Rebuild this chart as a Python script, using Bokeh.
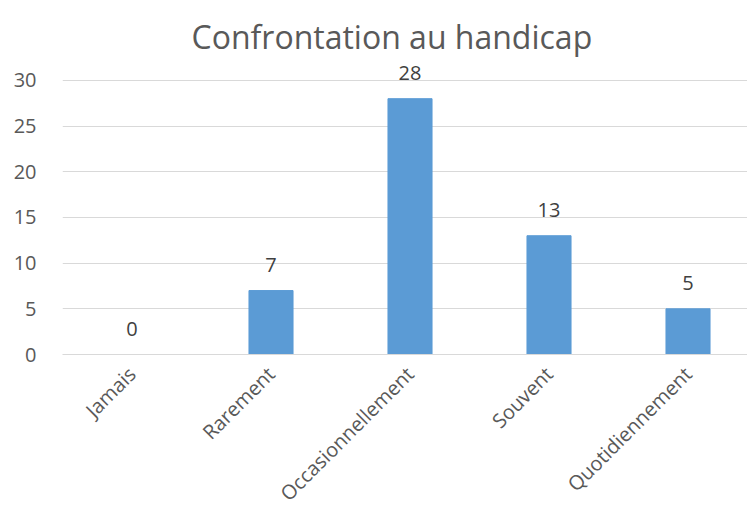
import math
from bokeh.plotting import figure
from bokeh.models import ColumnDataSource, FixedTicker, Range1d, LabelSet
from bokeh.core.properties import value
from bokeh.embed import file_html
from bokeh.resources import INLINE

title_text = "Confrontation au handicap"
categories = ["Jamais", "Rarement", "Occasionnellement", "Souvent", "Quotidiennement"]
values = [0, 7, 28, 13, 5]
y_ticks = [0, 5, 10, 15, 20, 25, 30]

xs = [i + 0.5 for i in range(len(categories))]
src = ColumnDataSource(dict(x=xs, top=values, label=[str(v) for v in values]))

FONT = "Open Sans"
GRAY = "#595959"

p = figure(width=747, height=518, output_backend="svg", toolbar_location=None,
           x_range=Range1d(0, 4.928), y_range=Range1d(0, 31.96),
           min_border_left=62, min_border_right=0, min_border_bottom=163,
           min_border_top=62, title=title_text)
p.title.align = "left"
p.title.offset = 129
p.title.standoff = 10
p.title.text_font = FONT
p.title.text_font_size = "32px"
p.title.text_font_style = "normal"
p.title.text_color = GRAY
p.outline_line_color = None

p.vbar(x="x", top="top", width=0.317, source=src, color="#5B9BD5")

labels = LabelSet(x="x", y="top", text="label", source=src, text_align="center",
                  text_baseline="middle", y_offset=26, text_font_size="20px",
                  text_color="#404040", text_font=value(FONT))
p.add_layout(labels)

p.xaxis.ticker = FixedTicker(ticks=xs)
p.xaxis.major_label_overrides = {x: c for x, c in zip(xs, categories)}
p.xaxis.major_label_orientation = math.pi / 4
p.xaxis.major_tick_line_color = None
p.xaxis.major_tick_out = 0
p.xaxis.major_tick_in = 0
p.xaxis.minor_tick_line_color = None
p.xaxis.axis_line_color = "#D9D9D9"
p.xaxis.major_label_text_font = FONT
p.xaxis.major_label_text_font_size = "20px"
p.xaxis.major_label_text_color = GRAY
p.xaxis.major_label_standoff = 16

p.yaxis.ticker = FixedTicker(ticks=y_ticks)
p.yaxis.axis_line_color = None
p.yaxis.major_tick_line_color = None
p.yaxis.minor_tick_line_color = None
p.yaxis.major_label_text_font = FONT
p.yaxis.major_label_text_font_size = "20px"
p.yaxis.major_label_text_color = GRAY
p.yaxis.major_label_standoff = 20

p.xgrid.grid_line_color = None
p.ygrid.grid_line_color = "#D9D9D9"
p.ygrid.grid_line_width = 1

open("out.html", "w").write(file_html(p, INLINE))
